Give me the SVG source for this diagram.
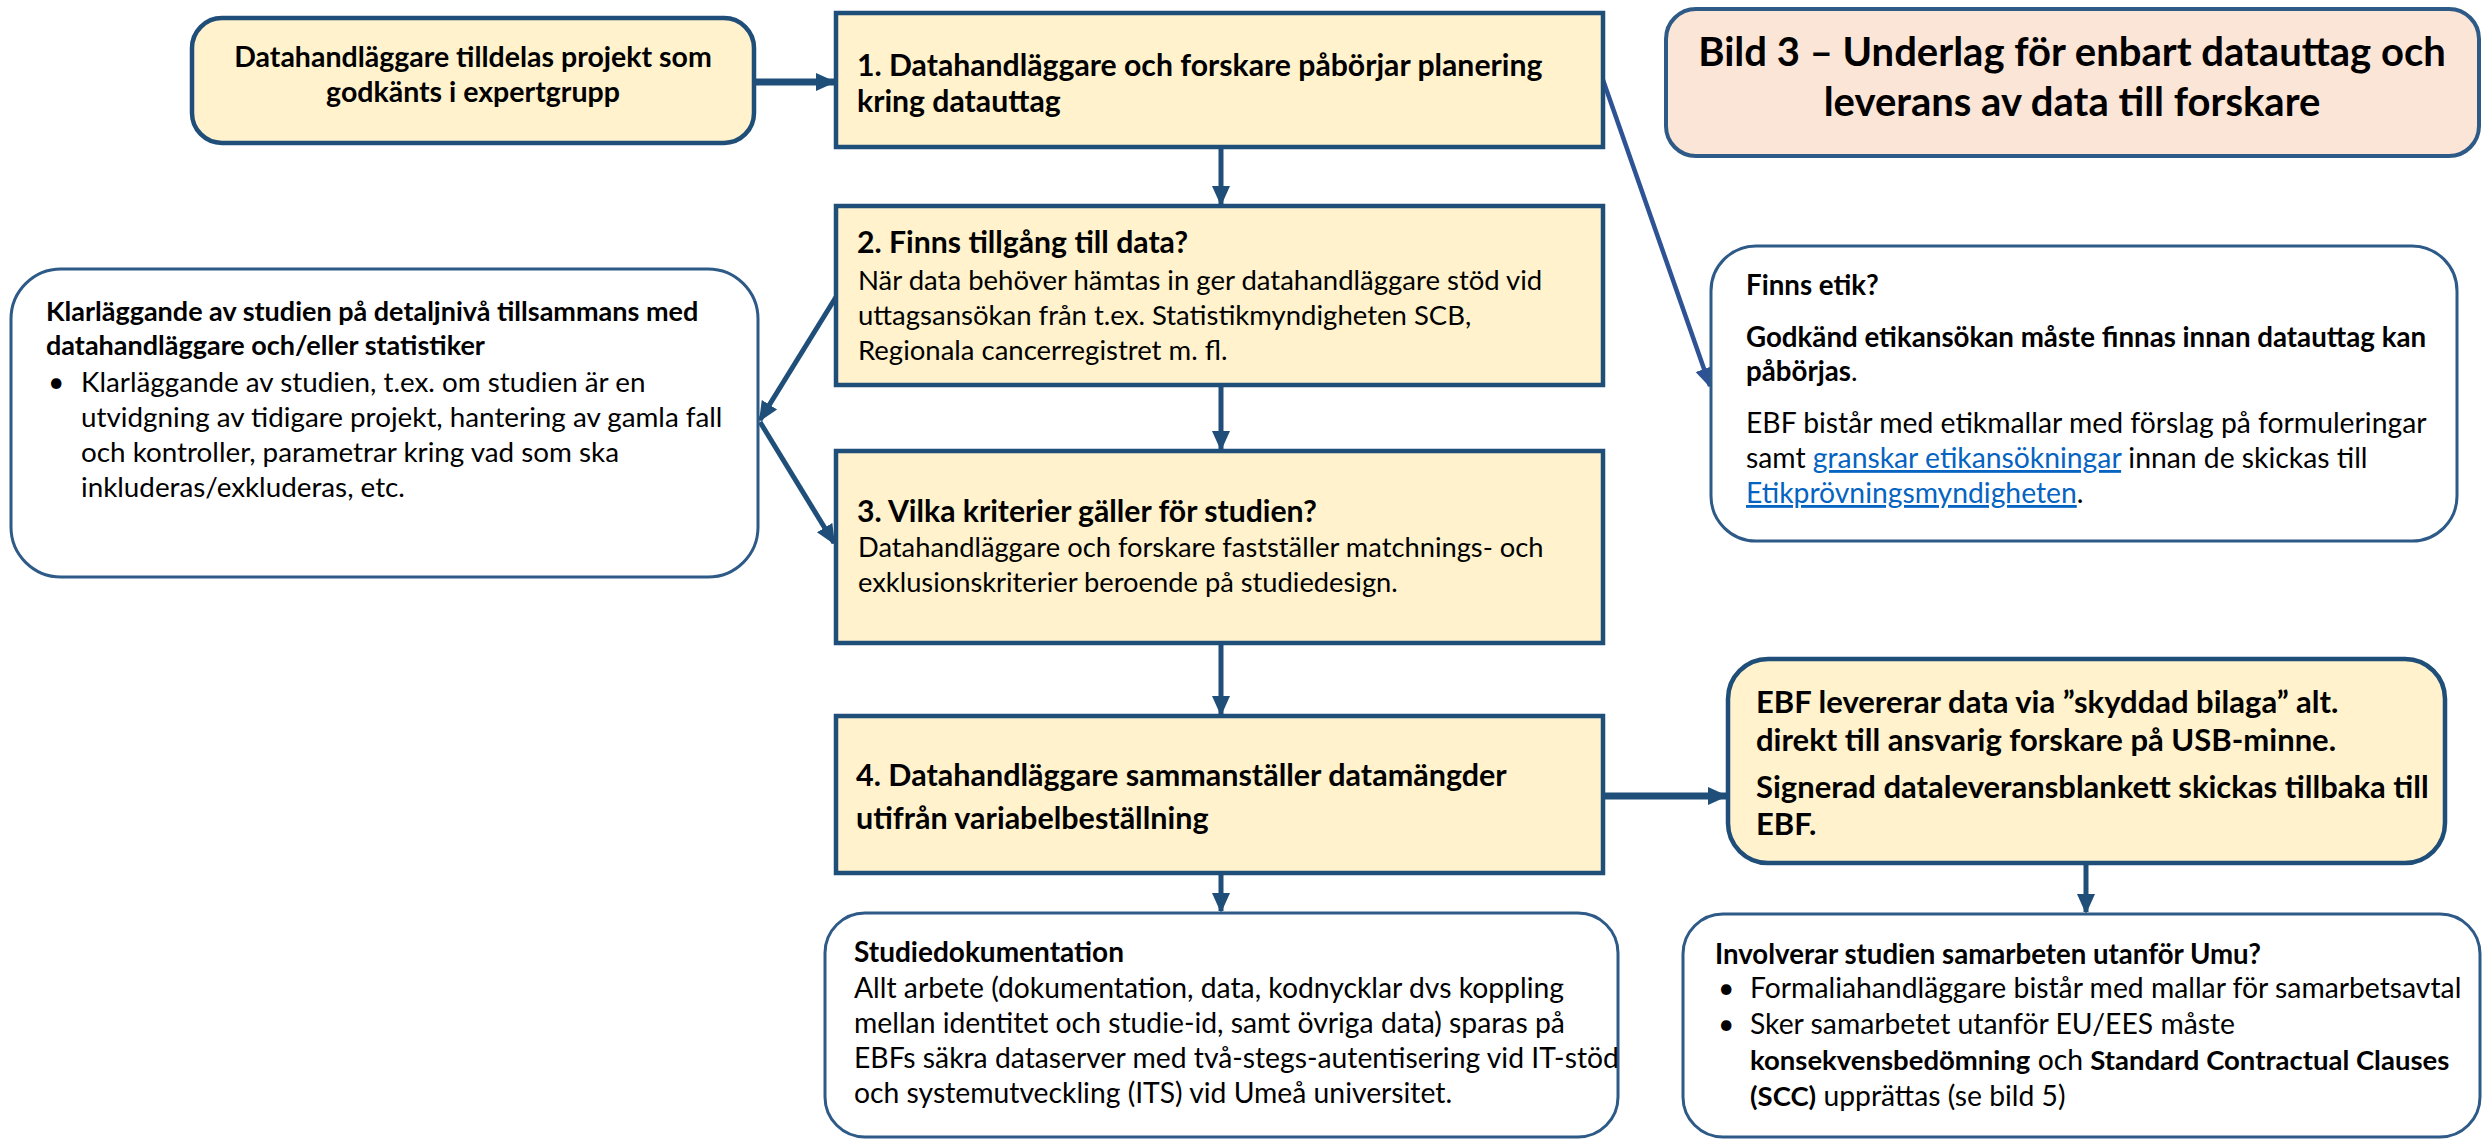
<svg xmlns="http://www.w3.org/2000/svg" width="2484" height="1140" viewBox="0 0 2484 1140">
<style>
text{font-family:Lato,"Open Sans","Liberation Sans",sans-serif;font-size:28.3px;fill:#000}
.b{font-weight:bold}
.s{font-size:30.2px}
.r{font-size:27.5px}
.y{fill:#FFF2CC;stroke:#1F4E79;stroke-width:4.5}
.w{fill:#FFFFFF;stroke:#2E5A88;stroke-width:3}
.t{fill:#FBE5D6;stroke:#2E5A88;stroke-width:4}
.c{stroke:#1F4E79;stroke-width:5;fill:none}
.k{stroke-width:7}
.d{stroke:#2E5394;stroke-width:4.5}
.lnk{fill:#0563C1;text-decoration:underline}
</style>
<defs>
<marker id="ah" markerUnits="userSpaceOnUse" viewBox="0 0 20 20" refX="18" refY="10" markerWidth="20" markerHeight="20" orient="auto">
<path d="M0,1 L20,10 L0,19 Z" fill="#1F4E79"/>
</marker>
<marker id="ah2" markerUnits="userSpaceOnUse" viewBox="0 0 20 20" refX="18" refY="10" markerWidth="20" markerHeight="20" orient="auto">
<path d="M0,1 L20,10 L0,19 Z" fill="#2E5394"/>
</marker>
</defs>
<g id="connectors">
<line class="c k" x1="754" y1="82" x2="834" y2="82" marker-end="url(#ah)"/>
<line class="c" x1="1221" y1="147" x2="1221" y2="204" marker-end="url(#ah)"/>
<line class="c" x1="1221" y1="385" x2="1221" y2="449" marker-end="url(#ah)"/>
<line class="c" x1="1221" y1="643" x2="1221" y2="714" marker-end="url(#ah)"/>
<line class="c" x1="1221" y1="873" x2="1221" y2="911" marker-end="url(#ah)"/>
<line class="c k" x1="1603" y1="796" x2="1726" y2="796" marker-end="url(#ah)"/>
<line class="c" x1="2086" y1="863" x2="2086" y2="912" marker-end="url(#ah)"/>
<line class="c d" x1="1603" y1="80" x2="1710" y2="386" marker-end="url(#ah2)"/>
<line class="c" x1="836" y1="297" x2="760" y2="420" marker-end="url(#ah)"/>
<line class="c" x1="760" y1="422" x2="834" y2="543" marker-end="url(#ah)"/>
</g>
<g id="start">
<rect class="y" x="192" y="18" width="562" height="125" rx="30"/>
<text class="b" x="473" y="67" text-anchor="middle" style="font-size:28.5px">Datahandläggare tilldelas projekt som</text>
<text class="b" x="473" y="102" text-anchor="middle" style="font-size:28.5px">godkänts i expertgrupp</text>
</g>
<g id="step1">
<rect class="y" x="836" y="13" width="767" height="134"/>
<text class="b s" x="857" y="76">1. Datahandläggare och forskare påbörjar planering</text>
<text class="b s" x="857" y="112">kring datauttag</text>
</g>
<g id="title">
<rect class="t" x="1666" y="9" width="813" height="147" rx="30"/>
<text class="b" x="2072" y="66" text-anchor="middle" style="font-size:40px">Bild 3 – Underlag för enbart datauttag och</text>
<text class="b" x="2072" y="116" text-anchor="middle" style="font-size:40px">leverans av data till forskare</text>
</g>
<g id="step2">
<rect class="y" x="836" y="206" width="767" height="179"/>
<text class="b s" x="857" y="253">2. Finns tillgång till data?</text>
<text class="r" x="858" y="290">När data behöver hämtas in ger datahandläggare stöd vid</text>
<text class="r" x="858" y="325">uttagsansökan från t.ex. Statistikmyndigheten SCB,</text>
<text class="r" x="858" y="360">Regionala cancerregistret m. fl.</text>
</g>
<g id="clarify">
<rect class="w" x="11" y="269" width="747" height="308" rx="50"/>
<text class="b" x="46" y="321" style="font-size:27px">Klarläggande av studien på detaljnivå tillsammans med</text>
<text class="b" x="46" y="355" style="font-size:27px">datahandläggare och/eller statistiker</text>
<text x="48" y="392">•</text>
<text x="81" y="392" style="font-size:27.8px">Klarläggande av studien, t.ex. om studien är en</text>
<text x="81" y="427" style="font-size:27.8px">utvidgning av tidigare projekt, hantering av gamla fall</text>
<text x="81" y="462" style="font-size:27.8px">och kontroller, parametrar kring vad som ska</text>
<text x="81" y="497" style="font-size:27.8px">inkluderas/exkluderas, etc.</text>
</g>
<g id="ethics">
<rect class="w" x="1711" y="246" width="746" height="295" rx="45"/>
<text class="b" x="1746" y="295" style="font-size:27.7px">Finns etik?</text>
<text class="b" x="1746" y="347" style="font-size:27.7px">Godkänd etikansökan måste finnas innan datauttag kan</text>
<text x="1746" y="381" style="font-size:27.7px"><tspan class="b">påbörjas</tspan>.</text>
<text x="1746" y="433">EBF bistår med etikmallar med förslag på formuleringar</text>
<text x="1746" y="468">samt <tspan class="lnk">granskar etikansökningar</tspan> innan de skickas till</text>
<text x="1746" y="503"><tspan class="lnk">Etikprövningsmyndigheten</tspan>.</text>
</g>
<g id="step3">
<rect class="y" x="836" y="451" width="767" height="192"/>
<text class="b s" x="857" y="522">3. Vilka kriterier gäller för studien?</text>
<text class="r" x="858" y="557" style="font-size:27.3px">Datahandläggare och forskare fastställer matchnings- och</text>
<text class="r" x="858" y="592" style="font-size:27.3px">exklusionskriterier beroende på studiedesign.</text>
</g>
<g id="step4">
<rect class="y" x="836" y="716" width="767" height="157"/>
<text class="b" x="856" y="786" style="font-size:30.5px">4. Datahandläggare sammanställer datamängder</text>
<text class="b" x="856" y="829" style="font-size:30.5px">utifrån variabelbeställning</text>
</g>
<g id="delivery">
<rect class="y" x="1728" y="659" width="717" height="204" rx="40"/>
<text class="b" x="1756" y="713" style="font-size:31px">EBF levererar data via ”skyddad bilaga” alt.</text>
<text class="b" x="1756" y="751" style="font-size:31px">direkt till ansvarig forskare på USB-minne.</text>
<text class="b" x="1756" y="798" style="font-size:31px">Signerad dataleveransblankett skickas tillbaka till</text>
<text class="b" x="1756" y="835" style="font-size:31px">EBF.</text>
</g>
<g id="documentation">
<rect class="w" x="825" y="913" width="793" height="224" rx="40"/>
<text class="b" x="854" y="962" style="font-size:28px">Studiedokumentation</text>
<text x="854" y="998">Allt arbete (dokumentation, data, kodnycklar dvs koppling</text>
<text x="854" y="1033">mellan identitet och studie-id, samt övriga data) sparas på</text>
<text x="854" y="1068">EBFs säkra dataserver med två-stegs-autentisering vid IT-stöd</text>
<text x="854" y="1103">och systemutveckling (ITS) vid Umeå universitet.</text>
</g>
<g id="collaboration">
<rect class="w" x="1683" y="914" width="797" height="223" rx="40"/>
<text class="b" x="1715" y="964" style="font-size:27.6px">Involverar studien samarbeten utanför Umu?</text>
<text x="1718" y="998">•</text>
<text x="1750" y="998">Formaliahandläggare bistår med mallar för samarbetsavtal</text>
<text x="1718" y="1034">•</text>
<text x="1750" y="1034">Sker samarbetet utanför EU/EES måste</text>
<text x="1750" y="1070"><tspan class="b" style="font-size:27.5px">konsekvensbedömning</tspan> och <tspan class="b" style="font-size:27.5px">Standard Contractual Clauses</tspan></text>
<text x="1750" y="1106"><tspan class="b" style="font-size:27.5px">(SCC)</tspan> upprättas (se bild 5)</text>
</g>
</svg>
